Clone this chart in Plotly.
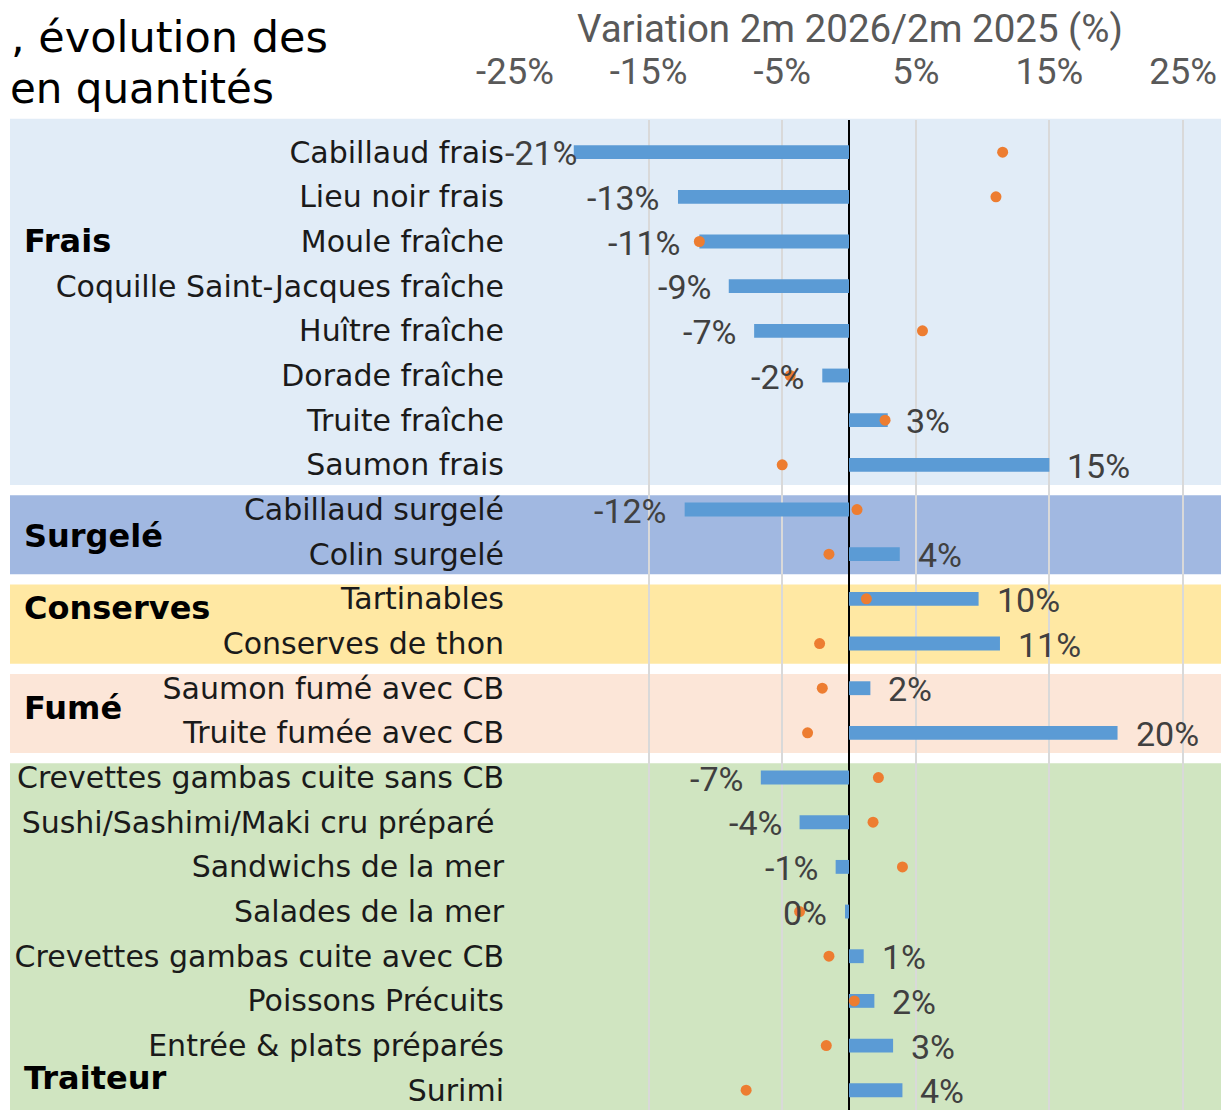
import plotly.graph_objects as go

categories = [
    "Cabillaud frais", "Lieu noir frais", "Moule fraîche", "Coquille Saint-Jacques fraîche",
    "Huître fraîche", "Dorade fraîche", "Truite fraîche", "Saumon frais",
    "Cabillaud surgelé", "Colin surgelé",
    "Tartinables", "Conserves de thon",
    "Saumon fumé avec CB", "Truite fumée avec CB",
    "Crevettes gambas cuite sans CB", "Sushi/Sashimi/Maki cru préparé ", "Sandwichs de la mer",
    "Salades de la mer", "Crevettes gambas cuite avec CB", "Poissons Précuits",
    "Entrée & plats préparés", "Surimi",
]
variation_2026 = [-20.6, -12.8, -11.2, -9.0, -7.1, -2.0, 2.9, 15.0,
                  -12.3, 3.8, 9.7, 11.3, 1.6, 20.1,
                  -6.6, -3.7, -1.0, -0.3, 1.1, 1.9, 3.3, 4.0]
variation_prev = [11.5, 11.0, -11.2, None, 5.5, -4.4, 2.7, -5.0,
                  0.6, -1.5, 1.3, -2.2, -2.0, -3.1,
                  2.2, 1.8, 4.0, -3.7, -1.5, 0.4, -1.7, -7.7]
groups = [("Frais", 0, 7), ("Surgelé", 8, 9), ("Conserves", 10, 11),
          ("Fumé", 12, 13), ("Traiteur", 14, 21)]
group_colors = ["#E1ECF7", "#A1B8E1", "#FFE8A3", "#FCE6D8", "#D0E5C1"]
tick_vals = [-25, -15, -5, 5, 15, 25]
tick_text = ["-25%", "-15%", "-5%", "5%", "15%", "25%"]

W, H = 1221, 1110
ML, MR, MT, MB = 515, 0, 120, 0
PX_PER_UNIT = 13.36
x_range = [-25, -25 + (W - ML - MR) / PX_PER_UNIT]
row_px = 44.67
y_top = 0.72
y_range = [-y_top + (H - MT - MB) / row_px, -y_top]

def px_to_paper_x(px):
    return (px - ML) / (W - ML - MR)

def row_to_paper_y(v):
    return (y_range[0] - v) / (y_range[0] - y_range[1])

def px_to_paper_y(py):
    return 1 - (py - MT) / (H - MT - MB)

LABEL_SIZE = 34
CHAR_W = {"-": 0.276, "%": 0.733}
def text_width(s):
    return sum(CHAR_W.get(c, 0.562) for c in s) * LABEL_SIZE

labels = [f"{int(round(v))}%" for v in variation_2026]

fig = go.Figure()
fig.add_trace(go.Bar(
    y=categories, x=variation_2026, orientation="h",
    marker=dict(color="#5B9BD5", line=dict(width=0)),
    width=0.31, showlegend=False, hoverinfo="x+y",
))
fig.add_trace(go.Scatter(
    y=categories, x=variation_prev, mode="markers",
    marker=dict(color="#ED7D31", size=11), showlegend=False,
))

annotations = []
GAP = 16
plot_left_px = 507
for cat, v, lab in zip(categories, variation_2026, labels):
    if v < 0:
        bar_end_px = ML + (v - x_range[0]) * PX_PER_UNIT
        shift = -GAP
        left = bar_end_px + shift - text_width(lab)
        if left < plot_left_px:
            shift += plot_left_px - left
        annotations.append(dict(xref="x", yref="y", x=v, y=cat, xanchor="right",
                                yanchor="middle", xshift=shift, yshift=-1, showarrow=False,
                                text=lab, font=dict(family="Roboto", size=LABEL_SIZE, color="#404040")))
    else:
        annotations.append(dict(xref="x", yref="y", x=v, y=cat, xanchor="left",
                                yanchor="middle", xshift=GAP, yshift=-1, showarrow=False,
                                text=lab, font=dict(family="Roboto", size=LABEL_SIZE, color="#404040")))

shapes = []
for (name, a, b), col in zip(groups, group_colors):
    top = row_to_paper_y(a - 0.5 + (0.18 if a > 0 else -0.25))
    bot = row_to_paper_y(b + 0.5 - 0.05) if b < len(categories) - 1 else -0.05
    shapes.append(dict(type="rect", xref="paper", yref="paper",
                       x0=px_to_paper_x(10), x1=1.02, y0=bot, y1=top,
                       fillcolor=col, line=dict(width=0), layer="below"))

group_label_rows = {"Frais": 1.98, "Surgelé": 8.6, "Conserves": 10.2, "Fumé": 12.45, "Traiteur": 20.73}
for name, a, b in groups:
    annotations.append(dict(xref="paper", yref="paper", x=px_to_paper_x(22),
                            y=row_to_paper_y(group_label_rows[name]),
                            xanchor="left", yanchor="middle", showarrow=False,
                            text=f"<b>{name}</b>",
                            font=dict(family="DejaVu Sans", size=32, color="#000000")))

annotations.append(dict(xref="paper", yref="paper", x=px_to_paper_x(330), y=px_to_paper_y(37),
                        xanchor="right", yanchor="middle", showarrow=False,
                        text=", évolution des",
                        font=dict(family="DejaVu Sans", size=43, color="#000000")))
annotations.append(dict(xref="paper", yref="paper", x=px_to_paper_x(276), y=px_to_paper_y(88),
                        xanchor="right", yanchor="middle", showarrow=False,
                        text="en quantités",
                        font=dict(family="DejaVu Sans", size=42, color="#000000")))
annotations.append(dict(xref="paper", yref="paper", x=px_to_paper_x(850), y=px_to_paper_y(29),
                        xanchor="center", yanchor="middle", showarrow=False,
                        text="Variation 2m 2026/2m 2025 (%)",
                        font=dict(family="Roboto", size=38.5, color="#595959")))

fig.update_layout(
    width=W, height=H,
    margin=dict(l=ML, r=MR, t=MT, b=MB, pad=0),
    paper_bgcolor="white", plot_bgcolor="rgba(0,0,0,0)",
    shapes=shapes, annotations=annotations,
)
fig.update_xaxes(
    side="top", range=x_range, tickvals=tick_vals, ticktext=tick_text,
    tickfont=dict(family="Roboto", size=36.5, color="#595959"),
    showgrid=True, gridcolor="#D9D9D9", gridwidth=1.5,
    zeroline=True, zerolinecolor="#000000", zerolinewidth=1.5,
    showline=False, ticks="", ticklabelstandoff=28, automargin=False,
)
fig.update_yaxes(
    type="category", categoryorder="array", categoryarray=categories,
    range=y_range, showgrid=False, zeroline=False, showline=False, ticks="",
    tickfont=dict(family="DejaVu Sans", size=30, color="#1A1A1A"),
    ticklabelstandoff=10, automargin=False,
)

fig.write_html("out.html", config={"displayModeBar": False},
               post_script="document.body.style.margin='0';")
